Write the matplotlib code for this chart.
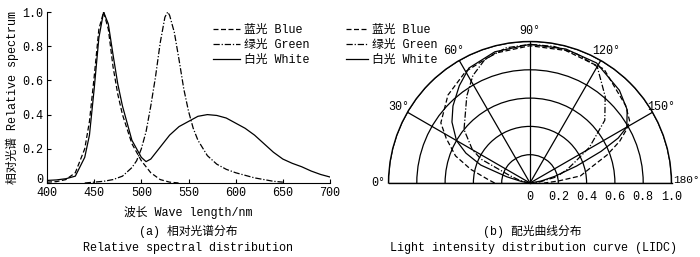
import numpy as np
import matplotlib
matplotlib.use('Agg')
import matplotlib.pyplot as plt

plt.rcParams['font.family'] = ['Liberation Mono', 'Noto Sans CJK SC']
plt.rcParams['font.size'] = 8.5
plt.rcParams['axes.unicode_minus'] = False

# --- relative spectra ---
wl_blue = [400, 410, 420, 430, 440, 445, 450, 455, 460, 465, 470, 475, 480, 490, 500, 510, 520, 530, 540]
spec_blue = [0.005, 0.008, 0.02, 0.06, 0.2, 0.36, 0.62, 0.9, 1.0, 0.9, 0.68, 0.52, 0.4, 0.23, 0.13, 0.06, 0.02, 0.005, 0.0]

wl_green = [440, 450, 460, 470, 480, 490, 495, 500, 505, 510, 515, 520, 525, 528, 530, 535, 540, 545, 550,
            555, 560, 570, 580, 590, 600, 610, 620, 630, 640, 650]
spec_green = [0.0, 0.005, 0.01, 0.02, 0.04, 0.09, 0.13, 0.2, 0.3, 0.45, 0.62, 0.82, 0.97, 1.0, 0.98, 0.88, 0.72,
              0.55, 0.42, 0.32, 0.25, 0.16, 0.11, 0.08, 0.06, 0.045, 0.03, 0.02, 0.01, 0.005]

wl_white = [400, 410, 420, 430, 440, 445, 450, 455, 460, 465, 470, 475, 480, 490, 500, 505, 510, 520, 530, 540,
            550, 560, 570, 580, 590, 600, 610, 620, 630, 640, 650, 660, 670, 680, 690, 700]
spec_white = [0.015, 0.018, 0.025, 0.04, 0.15, 0.28, 0.55, 0.85, 1.0, 0.93, 0.75, 0.58, 0.45, 0.25, 0.15, 0.125,
              0.14, 0.21, 0.28, 0.33, 0.36, 0.39, 0.40, 0.395, 0.38, 0.35, 0.32, 0.28, 0.23, 0.18, 0.14, 0.115,
              0.095, 0.07, 0.05, 0.035]

# --- light intensity distribution (angle in deg, relative intensity) ---
ang_blue = [0, 5, 13, 20, 28, 34, 47, 60, 75, 90, 105, 123, 141, 148, 151, 155, 160, 166, 172, 176, 180]
lidc_blue = [0.25, 0.3, 0.43, 0.56, 0.67, 0.76, 0.85, 0.91, 0.95, 0.97, 0.97, 0.96, 0.87, 0.83, 0.78, 0.7, 0.58,
             0.44, 0.36, 0.2, 0.1]

ang_green = [0, 10, 15, 20, 26, 30, 39, 54, 62, 70, 80, 90, 100, 110, 120, 131, 140, 149, 155, 160, 167, 175, 180]
lidc_green = [0.0, 0.03, 0.08, 0.15, 0.385, 0.47, 0.6, 0.76, 0.86, 0.93, 0.97, 0.98, 0.98, 0.97, 0.95, 0.81, 0.69,
              0.49, 0.35, 0.28, 0.19, 0.06, 0.0]

ang_white = [0, 10, 15, 20, 25, 30, 38, 45, 54, 62, 75, 90, 105, 119, 134, 143, 150, 153, 156, 160, 165, 170, 180]
lidc_white = [0.0, 0.06, 0.17, 0.37, 0.5, 0.6, 0.7, 0.77, 0.85, 0.92, 0.96, 0.98, 0.98, 0.97, 0.91, 0.86, 0.79,
              0.7, 0.55, 0.35, 0.18, 0.08, 0.0]

labels = ['蓝光 Blue', '绿光 Green', '白光 White']
styles = [(0, (4, 2)), (0, (5, 1.5, 1, 1.5)), '-']

fig = plt.figure(figsize=(7, 2.57), dpi=100)

# (a) spectra
ax = fig.add_axes((47/700, 74/257, 283/700, 171/257))
ax.plot(wl_blue, spec_blue, color='k', lw=0.9, ls=styles[0], label=labels[0])
ax.plot(wl_green, spec_green, color='k', lw=0.9, ls=styles[1], label=labels[1])
ax.plot(wl_white, spec_white, color='k', lw=0.9, ls=styles[2], label=labels[2])
ax.set_xlim(400, 700)
ax.set_ylim(0, 1)
ax.set_xticks([400, 450, 500, 550, 600, 650, 700])
ax.set_yticks([0, 0.2, 0.4, 0.6, 0.8, 1.0])
ax.set_yticklabels(['0', '0.2', '0.4', '0.6', '0.8', '1.0'])
ax.get_yticklabels()[0].set_verticalalignment('baseline')  # "0" sits a bit above the axis
ax.tick_params(direction='in', length=3, width=0.8, labelsize=8.5, pad=3)
for s in ['top', 'right']:
    ax.spines[s].set_visible(False)
ax.set_xlabel('波长 Wave length/nm', labelpad=5)
ax.set_ylabel('相对光谱 Relative spectrum', labelpad=2)
ax.legend(loc='upper left', bbox_to_anchor=(213/700, 1-24/257), bbox_transform=fig.transFigure,
          frameon=False, handlelength=2.3, handletextpad=0.3, labelspacing=0.25, borderpad=0, borderaxespad=0)

fig.text(188/700, 1-231/257, '(a) 相对光谱分布', ha='center', va='center')
fig.text(188/700, 1-248/257, 'Relative spectral distribution', ha='center', va='center')

# (b) LIDC, half polar (square box, the half disk sits in its middle)
R = 141.5
pax = fig.add_axes(((530 - R)/700, (257 - 183 - R/2)/257, 2*R/700, 2*R/257),
                   projection='polar')
pax.set_theta_zero_location('W')
pax.set_theta_direction(-1)
pax.set_thetamin(0)
pax.set_thetamax(180)
pax.plot(np.deg2rad(ang_blue), lidc_blue, color='k', lw=0.9, ls=styles[0], label=labels[0])
pax.plot(np.deg2rad(ang_green), lidc_green, color='k', lw=0.9, ls=styles[1], label=labels[1])
pax.plot(np.deg2rad(ang_white), lidc_white, color='k', lw=0.9, ls=styles[2], label=labels[2])
pax.set_ylim(0, 1)
theta_ticks = [0, 30, 60, 90, 120, 150, 180]
theta_labels = [f'{t}°' for t in theta_ticks]
# the 180° label sits to the right of the baseline end, drawn separately below
pax.set_thetagrids(theta_ticks, labels=theta_labels[:-1] + [''])
pax.annotate(theta_labels[-1], xy=(np.pi, 1.0), xytext=(1, 2), textcoords='offset points',
             ha='left', va='center', fontsize=8, annotation_clip=False)
r_ticks = [0, 0.2, 0.4, 0.6, 0.8, 1.0]
pax.set_rgrids(r_ticks[1:], labels=[''] * 5)
pax.grid(True, color='k', lw=0.9, ls='-')
for sp in pax.spines.values():
    sp.set_color('k')
    sp.set_linewidth(1.0)
pax.tick_params(axis='x', labelsize=8.5, pad=-3)
for r, lab in zip(r_ticks, ['0', '0.2', '0.4', '0.6', '0.8', '1.0']):
    pax.annotate(lab, xy=(np.pi, r), xytext=(0, -6), textcoords='offset points',
                 ha='center', va='top', fontsize=8.5, annotation_clip=False)
pax.legend(loc='upper left', bbox_to_anchor=(346/700, 1-24/257), bbox_transform=fig.transFigure,
           frameon=False, handlelength=1.9, handletextpad=0.3, labelspacing=0.25, borderpad=0, borderaxespad=0)

fig.text(532/700, 1-231/257, '(b) 配光曲线分布', ha='center', va='center')
fig.text(534/700, 1-248/257, 'Light intensity distribution curve (LIDC)', ha='center', va='center')

fig.savefig('out.png', dpi=100)
